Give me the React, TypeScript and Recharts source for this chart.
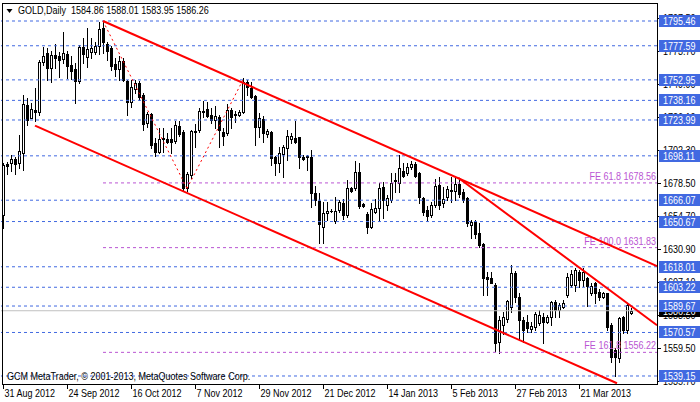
import React from "react";
import { ComposedChart, Bar, XAxis, YAxis, ReferenceLine } from "recharts";

// daily candles
const opens = [
  1655.4, 1692.0, 1693.0, 1695.5, 1692.7, 1700.0, 1734.8, 1725.6, 1731.2, 1729.5,
  1766.1, 1772.1, 1761.3, 1771.0, 1770.2, 1767.8, 1771.4, 1763.7, 1760.8, 1752.4,
  1776.7, 1769.7, 1773.3, 1773.3, 1777.6, 1790.2, 1778.6, 1775.7, 1764.2, 1760.8,
  1766.6, 1752.2, 1736.8, 1746.4, 1750.5, 1742.0, 1721.6, 1728.1, 1707.6, 1701.1,
  1710.3, 1710.3, 1710.3, 1708.8, 1719.7, 1715.5, 1675.1, 1684.3, 1716.0, 1716.8,
  1730.5, 1731.9, 1727.6, 1724.0, 1726.4, 1715.5, 1714.4, 1731.2, 1728.5, 1727.6,
  1730.0, 1751.6, 1747.3, 1741.3, 1719.2, 1724.5, 1713.9, 1715.5, 1697.5, 1693.2,
  1699.4, 1703.6, 1710.1, 1710.8, 1711.5, 1697.5, 1698.0, 1697.5, 1671.1, 1665.7,
  1646.9, 1656.6, 1658.3, 1651.3, 1659.0, 1664.3, 1655.4, 1674.7, 1674.7, 1686.2,
  1663.3, 1655.9, 1646.9, 1657.8, 1660.2, 1675.8, 1662.6, 1666.2, 1679.9, 1678.7,
  1687.4, 1685.5, 1689.8, 1692.2, 1685.5, 1667.4, 1659.0, 1655.4, 1662.6, 1677.0,
  1663.8, 1668.2, 1673.4, 1673.0, 1677.8, 1672.2, 1667.4, 1648.2, 1651.3, 1642.2,
  1634.5, 1610.4, 1609.7, 1604.9, 1563.9, 1576.3, 1580.3, 1588.7, 1613.7, 1596.4,
  1579.6, 1578.3, 1572.9, 1574.8, 1577.6, 1582.0, 1578.3, 1582.0, 1592.8, 1586.8,
  1589.2, 1597.6, 1604.9, 1604.9, 1614.5, 1608.5, 1609.7, 1599.3, 1606.1, 1600.0,
  1596.4, 1598.8, 1575.9, 1557.9, 1552.0, 1582.0, 1572.4, 1584.86,
];
const highs = [
  1693.0, 1694.0, 1699.0, 1697.0, 1713.1, 1742.0, 1739.9, 1736.0, 1746.9, 1767.3,
  1777.0, 1775.7, 1773.8, 1778.6, 1772.9, 1787.3, 1773.8, 1770.4, 1765.0, 1778.1,
  1783.0, 1790.6, 1783.4, 1780.5, 1795.0, 1795.46, 1780.5, 1777.6, 1769.0, 1770.4,
  1768.5, 1752.9, 1752.9, 1752.9, 1752.2, 1743.3, 1730.0, 1728.8, 1710.8, 1718.0,
  1718.0, 1714.4, 1718.0, 1723.3, 1723.3, 1716.8, 1686.7, 1716.8, 1720.9, 1732.4,
  1737.7, 1736.7, 1732.4, 1734.3, 1727.6, 1718.0, 1735.3, 1732.4, 1730.5, 1731.2,
  1754.5, 1752.9, 1751.6, 1742.0, 1728.8, 1726.9, 1717.3, 1716.3, 1698.0, 1704.7,
  1705.9, 1716.8, 1714.4, 1723.5, 1711.9, 1698.7, 1698.7, 1702.3, 1676.3, 1671.1,
  1665.0, 1665.0, 1659.7, 1668.2, 1666.2, 1666.7, 1680.7, 1675.4, 1694.4, 1692.7,
  1664.3, 1657.8, 1663.8, 1666.7, 1678.3, 1679.4, 1669.8, 1685.5, 1685.5, 1698.7,
  1693.2, 1692.7, 1694.6, 1693.9, 1686.7, 1668.2, 1661.9, 1665.0, 1681.2, 1683.0,
  1675.8, 1676.3, 1683.0, 1683.0, 1681.9, 1673.9, 1668.2, 1651.8, 1651.8, 1649.4,
  1635.0, 1614.5, 1614.5, 1606.2, 1582.4, 1585.6, 1594.0, 1619.3, 1614.9, 1598.8,
  1582.0, 1583.2, 1578.3, 1585.6, 1586.8, 1584.4, 1583.2, 1593.5, 1594.0, 1591.6,
  1594.0, 1613.3, 1615.7, 1616.9, 1615.7, 1617.2, 1610.9, 1606.1, 1607.2, 1601.8,
  1600.0, 1599.3, 1577.2, 1559.1, 1582.0, 1582.4, 1591.8, 1588.01,
];
const lows = [
  1646.0, 1685.0, 1687.0, 1685.0, 1689.6, 1688.0, 1720.4, 1725.2, 1723.3, 1727.6,
  1763.7, 1752.9, 1751.6, 1761.3, 1755.3, 1764.9, 1754.5, 1753.6, 1736.0, 1750.5,
  1765.0, 1762.5, 1768.5, 1771.4, 1771.4, 1772.1, 1767.3, 1760.1, 1756.0, 1752.9,
  1752.2, 1727.6, 1733.6, 1743.3, 1738.4, 1716.8, 1719.2, 1703.6, 1698.2, 1699.9,
  1701.1, 1707.2, 1699.9, 1707.2, 1712.6, 1672.5, 1673.0, 1681.9, 1704.7, 1715.5,
  1726.4, 1726.4, 1721.6, 1718.0, 1704.7, 1705.9, 1713.1, 1718.5, 1722.8, 1727.1,
  1728.8, 1742.0, 1739.6, 1705.9, 1711.9, 1708.3, 1711.9, 1691.5, 1684.3, 1686.7,
  1683.0, 1695.1, 1707.2, 1707.2, 1689.1, 1695.1, 1687.9, 1661.4, 1662.6, 1635.0,
  1635.0, 1651.8, 1657.6, 1649.9, 1657.8, 1652.3, 1654.2, 1672.2, 1673.4, 1660.2,
  1661.4, 1642.2, 1645.8, 1656.6, 1651.0, 1653.0, 1659.0, 1665.0, 1672.2, 1672.2,
  1682.6, 1684.3, 1688.4, 1682.6, 1664.3, 1655.4, 1651.3, 1653.7, 1661.4, 1659.5,
  1661.4, 1666.2, 1665.0, 1666.2, 1668.6, 1665.0, 1647.5, 1638.6, 1638.6, 1632.5,
  1597.6, 1597.6, 1606.1, 1557.0, 1555.8, 1569.5, 1578.3, 1585.6, 1592.8, 1565.1,
  1563.9, 1571.2, 1571.2, 1572.4, 1576.0, 1562.7, 1577.2, 1576.0, 1582.0, 1582.0,
  1588.0, 1596.4, 1603.7, 1600.8, 1603.7, 1604.1, 1589.7, 1597.6, 1591.6, 1593.8,
  1595.2, 1572.4, 1549.4, 1539.15, 1549.0, 1570.0, 1570.1, 1583.95,
];
const closes = [
  1691.5, 1691.0, 1696.0, 1692.5, 1701.6, 1735.3, 1724.0, 1731.7, 1730.0, 1765.6,
  1770.0, 1761.3, 1771.0, 1769.0, 1767.3, 1772.1, 1763.2, 1759.6, 1752.4, 1776.7,
  1771.4, 1775.2, 1776.2, 1777.6, 1789.7, 1780.1, 1773.8, 1763.2, 1760.8, 1766.6,
  1752.9, 1736.8, 1748.0, 1750.5, 1740.8, 1720.9, 1728.1, 1706.0, 1701.1, 1710.3,
  1711.3, 1707.9, 1708.3, 1720.4, 1713.6, 1674.7, 1684.8, 1716.0, 1715.1, 1730.5,
  1730.0, 1727.1, 1724.0, 1726.9, 1716.8, 1712.6, 1731.2, 1726.4, 1727.6, 1729.5,
  1751.6, 1748.0, 1740.8, 1719.2, 1725.2, 1714.4, 1716.3, 1696.3, 1692.7, 1700.0,
  1704.2, 1712.4, 1712.4, 1708.3, 1697.5, 1695.6, 1697.1, 1671.5, 1666.2, 1648.9,
  1657.0, 1658.3, 1658.0, 1658.5, 1665.0, 1655.4, 1674.7, 1673.0, 1686.2, 1661.9,
  1661.9, 1646.5, 1659.5, 1660.7, 1674.7, 1666.2, 1667.4, 1678.7, 1680.7, 1689.5,
  1683.5, 1689.8, 1692.2, 1683.5, 1668.2, 1657.8, 1654.7, 1662.6, 1676.3, 1662.6,
  1666.7, 1673.9, 1672.5, 1677.8, 1670.6, 1666.2, 1649.9, 1650.6, 1641.7, 1633.7,
  1609.7, 1608.9, 1606.5, 1562.9, 1579.6, 1582.0, 1593.5, 1613.7, 1596.4, 1579.6,
  1572.4, 1573.6, 1575.3, 1584.0, 1583.2, 1578.3, 1582.0, 1592.8, 1586.8, 1590.4,
  1592.1, 1610.9, 1612.8, 1615.7, 1608.5, 1614.5, 1604.1, 1604.1, 1599.3, 1596.4,
  1599.3, 1574.8, 1553.0, 1553.0, 1580.8, 1572.4, 1590.4, 1586.26,
];

// one label every 16 bars, starting at the first bar
const dateLabels = [
  "31 Aug 2012", "24 Sep 2012", "16 Oct 2012", "7 Nov 2012", "29 Nov 2012",
  "21 Dec 2012", "14 Jan 2013", "5 Feb 2013", "27 Feb 2013", "21 Mar 2013",
];
const labelStep = 16;
const emptySlots = 6;

const priceTicks = [1535.7, 1559.5, 1583.3, 1607.1, 1630.9, 1654.7, 1678.5, 1702.3, 1726.1, 1749.9, 1773.7, 1797.5];
const levels = [1795.46, 1777.59, 1752.95, 1738.16, 1723.99, 1698.11, 1666.07, 1650.67, 1618.01, 1603.22, 1589.67, 1570.57, 1539.15];
const feNames = ["FE 61.8", "FE 100.0", "FE 161.8"];
const feValues = [1678.56, 1631.83, 1556.22];
const feStart = 25;
const lastPrice = 1586.26;

// trend lines as [bar index, price]
const upperChannel = [[25, 1795.46], [163.5, 1618.5]];
const lowerChannel = [[8, 1719.9], [153.5, 1533.9]];
const steepLine = [[113.8, 1682.3], [163.5, 1575.8]];
const zigzag = [[25, 1795.46], [46, 1674.5], [60, 1752.95]];

const FONT = "'Liberation Sans', Arial, sans-serif";
const BLUE = "#4169E1";
const ORCHID = "#BA55D3";

const slots = opens.length + emptySlots;
const data = Array.from({ length: slots }, (_, i) =>
  i < opens.length
    ? { i, range: [lows[i], highs[i]], o: opens[i], h: highs[i], l: lows[i], c: closes[i] }
    : { i, range: null }
);

// MetaTrader's Tahoma is narrow, so squeeze a regular sans a bit
const NText = ({ x, y, anchor = "start", fill = "#000", children }: any) => (
  <text
    transform={`translate(${x},${y}) scale(0.82,1)`}
    textAnchor={anchor}
    fontSize={11}
    fontFamily={FONT}
    fill={fill}
  >
    {children}
  </text>
);

const Candle = (props: any) => {
  const { x, y, width, height, payload } = props;
  if (!payload || payload.o == null || y == null) return null;
  const top = Math.min(y, y + height);
  const bot = Math.max(y, y + height);
  const span = payload.h - payload.l;
  const py = (v: number) => (span > 0 ? top + ((payload.h - v) / span) * (bot - top) : top);
  const c = Math.round(x + width / 2);
  const yo = Math.round(py(payload.o));
  const yc = Math.round(py(payload.c));
  const bTop = Math.min(yo, yc);
  const bBot = Math.max(yo, yc);
  const bull = payload.c >= payload.o;
  return (
    <g shapeRendering="crispEdges">
      <line x1={c + 0.5} x2={c + 0.5} y1={Math.round(top)} y2={Math.round(bot) + 1} stroke="#000" />
      {bBot - bTop < 1 ? (
        <line x1={c - 1} x2={c + 2} y1={bTop + 0.5} y2={bTop + 0.5} stroke="#000" />
      ) : (
        <rect x={c - 0.5} y={bTop + 0.5} width={2} height={bBot - bTop} fill={bull ? "#fff" : "#000"} stroke="#000" />
      )}
    </g>
  );
};

const DateTick = (props: any) => {
  const { x, y, payload } = props;
  const label = dateLabels[payload.value / labelStep];
  if (!label) return null;
  const cx = Math.round(x) + 0.5;
  return (
    <g>
      <line x1={cx} x2={cx} y1={y} y2={y + 5} stroke="#000" shapeRendering="crispEdges" />
      <NText x={cx + 1} y={y + 13}>{label}</NText>
    </g>
  );
};

// right scale: plain ticks first, then the black last-price tag, then the blue level tags on top
const PriceTick = (props: any) => {
  const { x, y, payload } = props;
  const v = payload.value;
  const ty = Math.round(y);
  const isLevel = levels.includes(v);
  const isLast = v === lastPrice;
  if (isLevel || isLast) {
    return (
      <g>
        <rect x={x + 2} y={ty - 6} width={41} height={12} fill={isLast ? "#000" : BLUE} />
        <NText x={x + 6} y={ty + 4} fill="#fff">{v.toFixed(2)}</NText>
      </g>
    );
  }
  return (
    <g>
      <line x1={x} x2={x + 4} y1={ty + 0.5} y2={ty + 0.5} stroke="#000" shapeRendering="crispEdges" />
      <NText x={x + 6} y={ty + 4}>{v.toFixed(2)}</NText>
    </g>
  );
};

const FeTag = ({ viewBox, text }: any) => {
  if (!viewBox) return null;
  return (
    <NText x={viewBox.x + viewBox.width - 1} y={viewBox.y - 3} anchor="end" fill={ORCHID}>
      {text}
    </NText>
  );
};

const seg = (pts: number[][]) => pts.map(([x, y]) => ({ x, y }));

export default function App() {
  return (
    <div style={{ position: "absolute", left: 0, top: 0, width: 700, height: 402, background: "#fff", overflow: "hidden" }}>
      <ComposedChart
        width={700}
        height={402}
        data={data}
        margin={{ top: 3, right: 0, bottom: 0, left: 1 }}
        barCategoryGap={0}
        barGap={0}
      >
        <XAxis
          xAxisId="cat"
          dataKey="i"
          type="category"
          interval={labelStep - 1}
          tick={<DateTick />}
          tickLine={false}
          axisLine={false}
          tickSize={0}
          tickMargin={0}
          height={18}
        />
        <XAxis xAxisId="num" dataKey="i" type="number" domain={[-0.5, slots - 0.5]} allowDataOverflow hide />
        <YAxis
          orientation="right"
          type="number"
          domain={[1533.37, 1808.46]}
          allowDataOverflow
          ticks={[...priceTicks, lastPrice, ...levels]}
          interval={0}
          tick={<PriceTick />}
          tickLine={false}
          axisLine={false}
          tickSize={0}
          tickMargin={0}
          width={43}
        />

        <ReferenceLine xAxisId="num" y={lastPrice} stroke="#C0C0C0" />
        {levels.map((v) => (
          <ReferenceLine key={v} xAxisId="num" y={v} stroke={BLUE} strokeDasharray="3 3" />
        ))}
        {feValues.map((v, k) => (
          <ReferenceLine
            key={`fe-${k}`}
            xAxisId="num"
            segment={[{ x: feStart, y: v }, { x: slots - 0.5, y: v }]}
            stroke={ORCHID}
            strokeDasharray="3 3"
            ifOverflow="visible"
            label={<FeTag text={`${feNames[k]} ${v.toFixed(2)}`} />}
          />
        ))}

        <Bar xAxisId="cat" dataKey="range" shape={<Candle />} isAnimationActive={false} />

        <ReferenceLine xAxisId="num" segment={seg(upperChannel)} stroke="#FF0000" strokeWidth={2} ifOverflow="visible" />
        <ReferenceLine xAxisId="num" segment={seg(lowerChannel)} stroke="#FF0000" strokeWidth={2} ifOverflow="visible" />
        <ReferenceLine xAxisId="num" segment={seg(steepLine)} stroke="#FF0000" strokeWidth={2} ifOverflow="visible" />
        <ReferenceLine xAxisId="num" segment={seg(zigzag.slice(0, 2))} stroke="#FF0000" strokeDasharray="2 3" ifOverflow="visible" />
        <ReferenceLine xAxisId="num" segment={seg(zigzag.slice(1, 3))} stroke="#FF0000" strokeDasharray="2 3" ifOverflow="visible" />
      </ComposedChart>

      <svg width={700} height={402} style={{ position: "absolute", left: 0, top: 0, pointerEvents: "none" }}>
        <rect x={2.5} y={3.5} width={655} height={381} fill="none" stroke="#000" shapeRendering="crispEdges" />
        <polygon points="6.5,9 12.5,9 9.5,13" fill="#000" />
        <NText x={18} y={14}>GOLD,Daily{"\u00a0\u00a0"}1584.86 1588.01 1583.95 1586.26</NText>
        <NText x={7} y={380}>GCM MetaTrader, © 2001-2013, MetaQuotes Software Corp.</NText>
      </svg>
    </div>
  );
}
